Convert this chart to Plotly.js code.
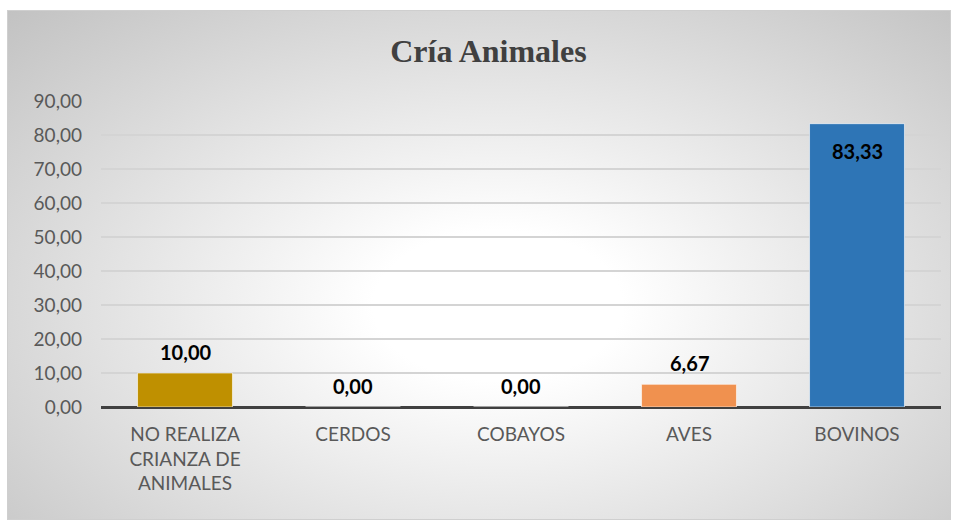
<!DOCTYPE html>
<html>
<head>
<meta charset="utf-8">
<script src="https://cdn.plot.ly/plotly-3.0.1.min.js"></script>
<style>
  html, body { margin: 0; padding: 0; background: #ffffff; }
  #chart {
    position: absolute; left: 7px; top: 10px;
    width: 942px; height: 508px;
    border: 1px solid #cfcfcf;
    background: radial-gradient(ellipse farthest-corner at 52% 58%, #ffffff 0%, #ffffff 18%, #c2c2c2 100%);
  }
</style>
</head>
<body>
<div id="chart"></div>
<script>
const categories = ["NO REALIZA<br>CRIANZA DE<br>ANIMALES", "CERDOS", "COBAYOS", "AVES", "BOVINOS"];
const values = [10.00, 0.00, 0.00, 6.67, 83.33];
const barColors = ["#BF9000", "#A5A5A5", "#FFC000", "#F0914F", "#2E75B6"];
const labelInside = [false, false, false, false, true];
const yTicks = [0, 10, 20, 30, 40, 50, 60, 70, 80, 90];

const labelFont = { family: "Lato, 'Open Sans', sans-serif", size: 20, color: "#000000", weight: "bold" };

const trace = {
  type: "bar",
  x: categories,
  y: values,
  marker: { color: barColors, line: { color: "rgba(255,255,255,0.6)", width: 1 } },
  hoverinfo: "none"
};

const annotations = categories.map((c, i) => ({
  x: c, y: values[i], xref: "x", yref: "y",
  text: values[i].toFixed(2).replace(".", ","),
  showarrow: false,
  font: labelFont,
  yanchor: labelInside[i] ? "top" : "bottom",
  yshift: labelInside[i] ? -13 : 7
}));

const layout = {
  width: 942, height: 508,
  paper_bgcolor: "rgba(0,0,0,0)",
  plot_bgcolor: "rgba(0,0,0,0)",
  separators: ",.",
  margin: { l: 93, r: 9, t: 90, b: 112 },
  bargap: 0.435,
  showlegend: false,
  title: {
    text: "<b>Cría Animales</b>",
    font: { family: "'Liberation Serif', 'Times New Roman', serif", size: 32, color: "#404040" },
    x: 0.51, xref: "container", xanchor: "center",
    y: 0.922, yref: "container", yanchor: "middle"
  },
  annotations: annotations,
  xaxis: {
    type: "category",
    showgrid: false, showline: false, ticks: "",
    tickfont: { family: "Lato, 'Open Sans', sans-serif", size: 19, color: "#595959" },
    ticklabelstandoff: 14
  },
  yaxis: {
    range: [0, 90],
    tickvals: yTicks,
    tickformat: ".2f",
    showgrid: true, gridcolor: "#d4d4d4", gridwidth: 1.4,
    showline: false, ticks: "",
    zeroline: true, zerolinecolor: "#404040", zerolinewidth: 3,
    tickfont: { family: "Lato, 'Open Sans', sans-serif", size: 19, color: "#595959" },
    ticklabelstandoff: 18
  }
};

Plotly.newPlot("chart", [trace], layout, { displayModeBar: false, staticPlot: true });
</script>
</body>
</html>
